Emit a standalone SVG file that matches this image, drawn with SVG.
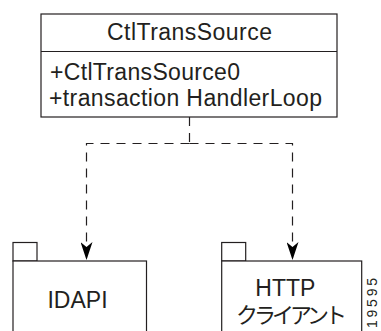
<svg xmlns="http://www.w3.org/2000/svg" width="381" height="331" viewBox="0 0 381 331">
  <style>
    .box { fill: #ffffff; stroke: #231f20; stroke-width: 1.2; }
    .txt { font-family: "Liberation Sans", Arial, sans-serif; fill: #231f20; }
    .jp { font-family: "Liberation Sans", "Noto Sans CJK JP", sans-serif; fill: #231f20; }
    .dash { fill: none; stroke: #231f20; stroke-width: 1.2; stroke-dasharray: 9 7; }
  </style>
  <defs>
    <marker id="arrow" markerUnits="userSpaceOnUse" viewBox="-18 -6 18 12" refX="0" refY="0" markerWidth="18" markerHeight="12" orient="auto">
      <path d="M0,0 L-18,-6 L-13,0 L-18,6 Z" fill="#000000"/>
    </marker>
  </defs>
  <rect width="381" height="331" fill="#ffffff"/>

  <g id="connectors">
    <path class="dash" d="M189.5,117 V143.5"/>
    <path class="dash" d="M189.5,143.5 H86.5 V260" marker-end="url(#arrow)"/>
    <path class="dash" d="M189.5,143.5 H292.5 V260" marker-end="url(#arrow)"/>
  </g>

  <g id="CtlTransSource">
    <rect class="box" x="41" y="14" width="296" height="103"/>
    <line x1="41" y1="51.5" x2="337" y2="51.5" stroke="#231f20" stroke-width="1.2"/>
    <text class="txt" x="107" y="40" font-size="23" textLength="165">CtlTransSource</text>
    <text class="txt" x="50" y="79.5" font-size="23" textLength="190">+CtlTransSource0</text>
    <text class="txt" x="49" y="106" font-size="23" textLength="273">+transaction HandlerLoop</text>
  </g>

  <g id="IDAPI">
    <rect class="box" x="13" y="242.5" width="24" height="18.5"/>
    <rect class="box" x="13" y="261" width="133.5" height="90"/>
    <text class="txt" x="77.5" y="308" font-size="23" text-anchor="middle">IDAPI</text>
  </g>

  <g id="HTTPClient">
    <rect class="box" x="221.7" y="242.5" width="24" height="18.5"/>
    <rect class="box" x="221.7" y="261" width="140" height="90"/>
    <text class="txt" x="285.3" y="295.5" font-size="23" text-anchor="middle">HTTP</text>
    <text class="jp" x="236" y="323" font-size="22" textLength="111">クライアント</text>
  </g>

  <text class="txt" transform="translate(376.5,328) rotate(-90)" font-size="14" textLength="50">19595</text>
</svg>
